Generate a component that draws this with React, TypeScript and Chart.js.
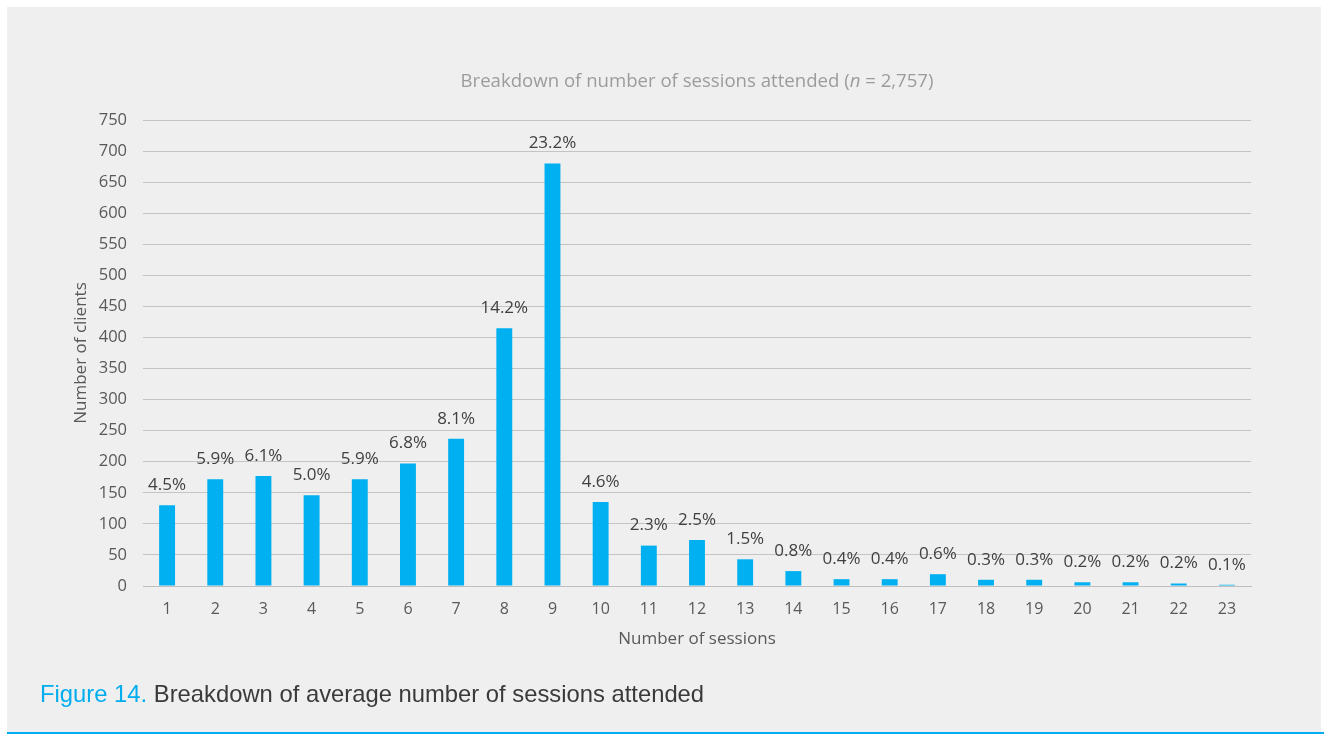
import { useEffect, useRef } from "react";
import { Chart, registerables } from "chart.js";

Chart.register(...registerables);

// Number of sessions attended (x categories)
const sessions = [
  "1", "2", "3", "4", "5", "6", "7", "8", "9", "10", "11", "12",
  "13", "14", "15", "16", "17", "18", "19", "20", "21", "22", "23",
];

// Number of clients per session count
const clients = [
  130, 172, 177, 146, 172, 197, 237, 415, 680, 135, 65, 74,
  43, 24, 11, 11, 19, 10, 10, 6, 6, 4, 2,
];

// Share of clients shown above each bar
const shareLabels = [
  "4.5%", "5.9%", "6.1%", "5.0%", "5.9%", "6.8%", "8.1%", "14.2%",
  "23.2%", "4.6%", "2.3%", "2.5%", "1.5%", "0.8%", "0.4%", "0.4%",
  "0.6%", "0.3%", "0.3%", "0.2%", "0.2%", "0.2%", "0.1%",
];

const yMin = 0;
const yMax = 750;
const yStep = 50;

const FONT = "'Open Sans', sans-serif";
const BAR_BLUE = "#00B0F0";

// Title with an italic "n", centred over the plot area
const titlePlugin = {
  id: "sessionsTitle",
  afterDraw(chart: any) {
    const { ctx, chartArea } = chart;
    const parts = [
      { text: "Breakdown of number of sessions attended (", italic: false },
      { text: "n", italic: true },
      { text: " = 2,757)", italic: false },
    ];
    const size = 18.6;
    ctx.save();
    ctx.fillStyle = "#9c9c9c";
    ctx.textBaseline = "middle";
    ctx.textAlign = "left";
    let total = 0;
    const widths = parts.map((p) => {
      ctx.font = `${p.italic ? "italic " : ""}${size}px ${FONT}`;
      const w = ctx.measureText(p.text).width;
      total += w;
      return w;
    });
    let x = (chartArea.left + chartArea.right) / 2 - total / 2;
    parts.forEach((p, i) => {
      ctx.font = `${p.italic ? "italic " : ""}${size}px ${FONT}`;
      ctx.fillText(p.text, x, 82);
      x += widths[i];
    });
    ctx.restore();
  },
};

// Percentage labels above each bar
const shareLabelPlugin = {
  id: "shareLabels",
  afterDatasetsDraw(chart: any) {
    const { ctx } = chart;
    const meta = chart.getDatasetMeta(0);
    ctx.save();
    ctx.font = `17px ${FONT}`;
    ctx.fillStyle = "#404040";
    ctx.textAlign = "center";
    ctx.textBaseline = "middle";
    meta.data.forEach((bar: any, i: number) => {
      ctx.fillText(shareLabels[i], bar.x, bar.y - 20);
    });
    ctx.restore();
  },
};

export default function App() {
  const canvasRef = useRef<HTMLCanvasElement | null>(null);

  useEffect(() => {
    document.body.style.margin = "0";
    const canvas = canvasRef.current;
    if (!canvas) return;
    const chart = new Chart(canvas, {
      type: "bar",
      data: {
        labels: sessions,
        datasets: [
          {
            data: clients,
            backgroundColor: BAR_BLUE,
            borderWidth: 0,
            barPercentage: 0.33,
            categoryPercentage: 1,
          },
        ],
      },
      options: {
        responsive: false,
        animation: false,
        devicePixelRatio: 1,
        layout: { padding: { left: 60, right: 73, top: 120, bottom: 79 } },
        plugins: {
          legend: { display: false },
          tooltip: { enabled: false },
          title: { display: false },
        },
        scales: {
          x: {
            grid: { display: false, drawTicks: false },
            border: { display: true, color: "#bfbfbf", width: 1 },
            ticks: {
              color: "#595959",
              font: { family: FONT, size: 16 },
              padding: 14,
              maxRotation: 0,
              autoSkip: false,
            },
            title: {
              display: true,
              text: "Number of sessions",
              color: "#595959",
              font: { family: FONT, size: 17 },
              padding: { top: 0, bottom: 7 },
            },
            afterFit(scale: any) {
              scale.height = 70;
            },
          },
          y: {
            min: yMin,
            max: yMax,
            grid: { color: "#c4c4c4", drawTicks: false },
            border: { display: false },
            ticks: {
              stepSize: yStep,
              color: "#595959",
              font: { family: FONT, size: 16.5 },
              padding: 16,
            },
            title: {
              display: true,
              text: "Number of clients",
              color: "#595959",
              font: { family: FONT, size: 17 },
              padding: { top: 11, bottom: 0 },
            },
            afterFit(scale: any) {
              scale.width = 83;
            },
          },
        },
      },
      plugins: [titlePlugin, shareLabelPlugin],
    });
    return () => chart.destroy();
  }, []);

  return (
    <div
      style={{
        position: "relative",
        width: 1324,
        height: 735,
        background: "#ffffff",
        overflow: "hidden",
      }}
    >
      <div
        style={{
          position: "absolute",
          left: 7,
          top: 7,
          width: 1314,
          height: 726,
          background: "#efefef",
        }}
      />
      <canvas
        ref={canvasRef}
        width={1324}
        height={735}
        style={{ position: "absolute", left: 0, top: 0 }}
      />
      <div
        style={{
          position: "absolute",
          left: 40,
          top: 678,
          fontFamily: "'Liberation Sans', Arial, sans-serif",
          fontSize: 23.8,
          lineHeight: "32px",
          color: "#3a3a3a",
          whiteSpace: "nowrap",
        }}
      >
        <span style={{ color: "#00AEEF" }}>Figure 14.</span> Breakdown of average
        number of sessions attended
      </div>
      <div
        style={{
          position: "absolute",
          left: 7,
          top: 732,
          width: 1317,
          height: 2,
          background: "#00AEEF",
        }}
      />
    </div>
  );
}
